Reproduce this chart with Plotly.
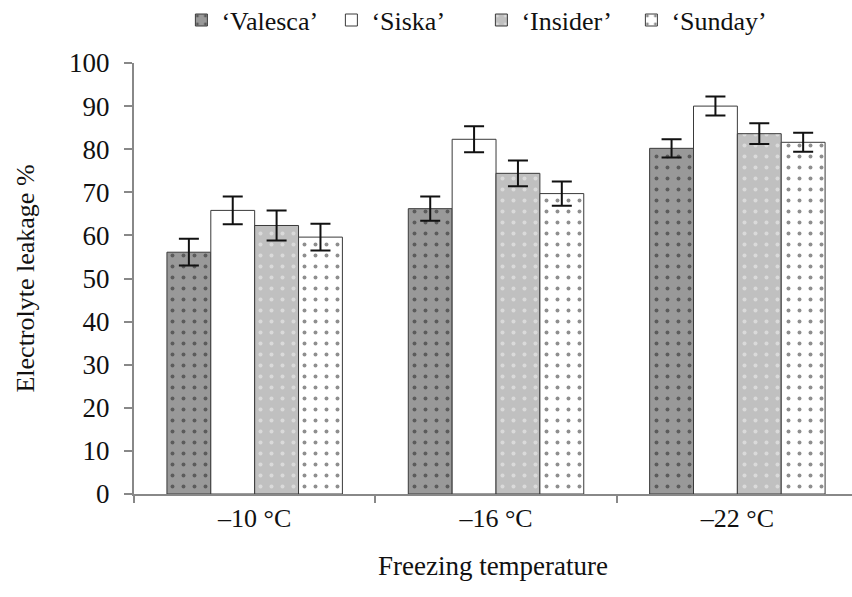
import plotly.graph_objects as go

categories = ["\u201310 \u00b0C", "\u201316 \u00b0C", "\u201322 \u00b0C"]
cultivars = ["\u2018Valesca\u2019", "\u2018Siska\u2019", "\u2018Insider\u2019", "\u2018Sunday\u2019"]
valesca = [56.1, 66.2, 80.2]
siska = [65.8, 82.3, 90.0]
insider = [62.3, 74.4, 83.6]
sunday = [59.6, 69.7, 81.6]
valesca_err = [3.1, 2.8, 2.1]
siska_err = [3.2, 3.0, 2.2]
insider_err = [3.5, 3.0, 2.4]
sunday_err = [3.1, 2.8, 2.2]

values = [valesca, siska, insider, sunday]
errors = [valesca_err, siska_err, insider_err, sunday_err]
styles = [
    dict(bg="#999999", fg="#1e1e1e", shape="."),
    dict(bg="#ffffff", fg="#ffffff", shape=""),
    dict(bg="#c0c0c0", fg="#f4f4f4", shape="."),
    dict(bg="#ffffff", fg="#1e1e1e", shape="."),
]

fig = go.Figure()
for name, v, e, s in zip(cultivars, values, errors, styles):
    fig.add_trace(go.Bar(
        x=categories, y=v, name=name,
        marker=dict(
            color=s["bg"],
            line=dict(color="#3a3a3a", width=1),
            pattern=dict(shape=s["shape"], fgcolor=s["fg"], bgcolor=s["bg"],
                         size=11, solidity=0.1, fillmode="overlay"),
        ),
        error_y=dict(type="data", array=e, visible=True, color="#111111",
                     thickness=2, width=10),
    ))

font = "Liberation Serif, Times New Roman, serif"
fig.update_layout(
    width=852, height=597,
    barmode="group", bargap=0.273, bargroupgap=0,
    plot_bgcolor="white", paper_bgcolor="white",
    margin=dict(l=134, r=0, t=63, b=103, autoexpand=False),
    font=dict(family=font, size=26, color="#111111"),
    showlegend=True,
    legend=dict(orientation="h", x=0.066, xanchor="left", y=1.045, yanchor="bottom",
                font=dict(family=font, size=26), itemwidth=30,
                entrywidth=105, entrywidthmode="pixels",
                bgcolor="rgba(0,0,0,0)"),
    xaxis=dict(
        range=[-0.5, 2.475], showline=True, linecolor="#888888", linewidth=2,
        ticks="outside", tickson="boundaries", ticklen=7, tickwidth=2,
        tickcolor="#888888", tickfont=dict(family=font, size=26),
        title=dict(text="Freezing temperature", standoff=24,
                   font=dict(family=font, size=27)),
        showgrid=False, zeroline=False,
    ),
    yaxis=dict(
        range=[0, 100], dtick=10, showline=True, linecolor="#888888", linewidth=2,
        ticks="outside", ticklen=8, tickwidth=1.5, tickcolor="#888888",
        tickfont=dict(family=font, size=27), ticklabelstandoff=9,
        title=dict(text="Electrolyte leakage %", standoff=27,
                   font=dict(family=font, size=26)),
        showgrid=False, zeroline=False,
    ),
)

fig.write_html("out.html")
